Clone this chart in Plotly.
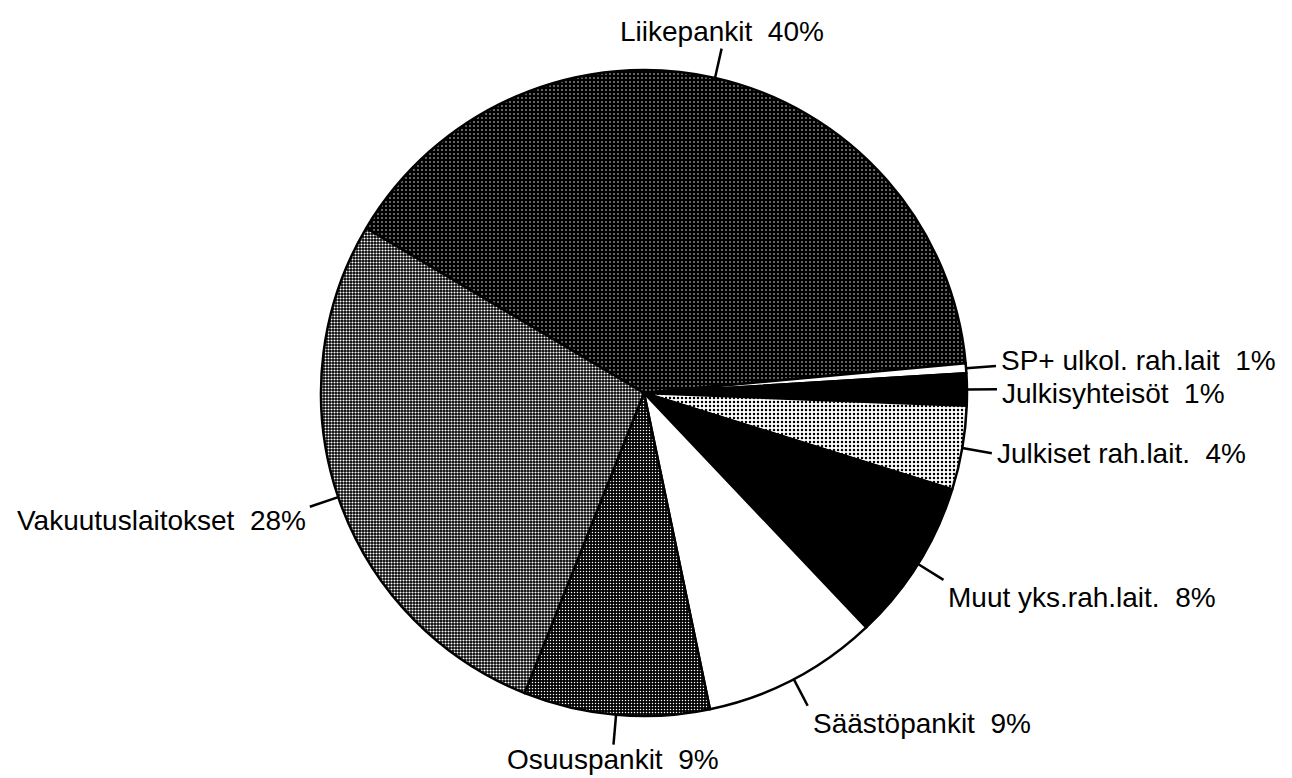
import math
import plotly.graph_objects as go

# ---- data ----
categories = ["Liikepankit", "SP+ ulkol. rah.lait", "Julkisyhteisöt", "Julkiset rah.lait.",
              "Muut yks.rah.lait.", "Säästöpankit", "Osuuspankit", "Vakuutuslaitokset"]
values = [40.0, 0.5, 1.6, 4.2, 8.1, 8.8, 9.3, 27.5]
pct_labels = ["40%", "1%", "1%", "4%", "8%", "9%", "9%", "28%"]

# ---- layout constants ----
W, H = 1292, 778
CX, CY, R = 644, 393, 323
ROT = 300.7
LEAD = 30
FONT = "Liberation Sans, Arial, Helvetica, sans-serif"
FONT_SIZE = 28
label_yshift = [0, 5, -4, 0, 0, 0, 3, 4]

# ---- styles ----
bg_colors = ["#000000", "#ffffff", "#000000", "#ffffff", "#000000", "#ffffff", "#000000", "#000000"]
pat_shape = [".", "", "", ".", "", "", ".", "."]
pat_fg = ["#ffffff", "#000000", "#000000", "#000000", "#000000", "#000000", "#ffffff", "#ffffff"]
pat_size = [4, 6, 6, 4, 6, 6, 3, 3]
pat_sol = [0.1, 0.3, 0.3, 0.3, 0.3, 0.3, 0.2, 0.4]

fig = go.Figure()
fig.add_trace(go.Pie(
    labels=categories,
    values=values,
    sort=False,
    direction="clockwise",
    rotation=ROT,
    textinfo="none",
    hoverinfo="label+percent",
    showlegend=False,
    domain=dict(x=[(CX - R) / W, (CX + R) / W], y=[1 - (CY + R) / H, 1 - (CY - R) / H]),
    marker=dict(
        colors=bg_colors,
        line=dict(color="#000000", width=2.5),
        pattern=dict(shape=pat_shape, fgcolor=pat_fg, bgcolor=bg_colors,
                     size=pat_size, solidity=pat_sol, fillmode="replace"),
    ),
))

shapes = []
annotations = []
total = sum(values)
angle = ROT
for cat, val, pct, lys in zip(categories, values, pct_labels, label_yshift):
    span = val / total * 360.0
    mid = math.radians(angle + span / 2)
    angle += span
    s, c = math.sin(mid), math.cos(mid)
    x0, y0 = CX + R * s, CY - R * c
    x1, y1 = CX + (R + LEAD) * s, CY - (R + LEAD) * c
    shapes.append(dict(type="line", xref="paper", yref="paper",
                       x0=x0 / W, y0=1 - y0 / H, x1=x1 / W, y1=1 - y1 / H,
                       line=dict(color="#000000", width=2.5)))
    if abs(s) < 0.25:
        xa, xs = "center", 0
    elif s > 0:
        xa, xs = "left", 3
    else:
        xa, xs = "right", -2
    if c > 0.9:
        ya = "bottom"
    elif c < -0.3:
        ya = "top"
    else:
        ya = "middle"
    annotations.append(dict(xref="paper", yref="paper", x=x1 / W, y=1 - y1 / H,
                            text=f"{cat}\u00a0 {pct}", showarrow=False,
                            xanchor=xa, yanchor=ya, xshift=xs, yshift=lys,
                            font=dict(family=FONT, size=FONT_SIZE, color="#000000")))

fig.update_layout(
    width=W, height=H,
    margin=dict(l=0, r=0, t=0, b=0),
    paper_bgcolor="#ffffff",
    plot_bgcolor="#ffffff",
    shapes=shapes,
    annotations=annotations,
)

fig.write_html(
    "out.html",
    config={"displayModeBar": False},
    post_script="document.body.style.margin='0px';document.body.style.overflow='hidden';",
)
